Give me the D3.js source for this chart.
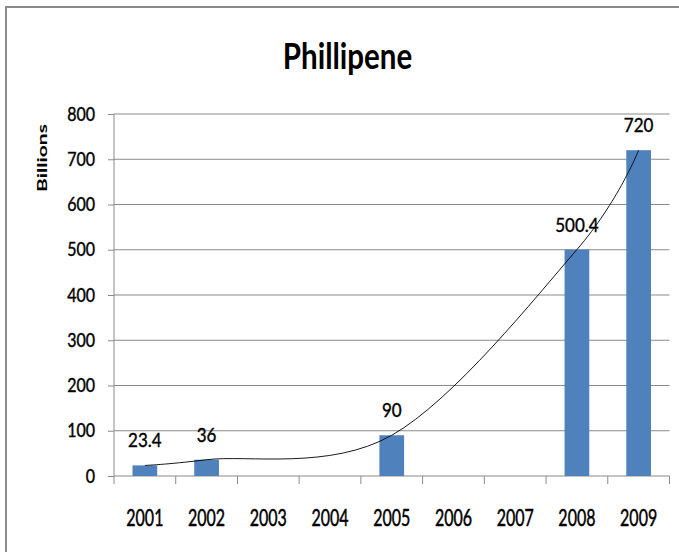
<!DOCTYPE html>
<html><head><meta charset="utf-8">
<script src="https://cdn.jsdelivr.net/npm/d3@7"></script>
<style>
body{margin:0;background:#fff;}
svg{display:block;}
text{font-family:Lato,'Open Sans',sans-serif;fill:#000;}
text.reg{stroke:#000;stroke-width:0.35px;}
</style>
</head><body>
<svg id="c" width="679" height="552"></svg>
<script>
const chartTitle = "Phillipene";
const yAxisTitle = "Billions";
const categories = ["2001","2002","2003","2004","2005","2006","2007","2008","2009"];
const values = [23.4, 36, null, null, 90, null, null, 500.4, 720];
const valueLabels = ["23.4","36",null,null,"90",null,null,"500.4","720"];
const yTicks = [0,100,200,300,400,500,600,700,800];

const svg = d3.select("#c");
const L = 114, R = 669.5, T = 114, B = 476;

// outer frame
svg.append("rect").attr("x",6).attr("y",7).attr("width",700).attr("height",600)
  .attr("fill","none").attr("stroke","#8a8a8a").attr("stroke-width",2);

const x = d3.scaleBand().domain(categories).range([L,R]).paddingInner(0.6).paddingOuter(0.3);
const xb = d3.scaleBand().domain(categories).range([L,R]).padding(0);
const y = d3.scaleLinear().domain([0,800]).range([B,T]);

function stretch(sel, sx, sy){
  sel.each(function(){
    const t = d3.select(this);
    const px = +t.attr("data-x"), py = +t.attr("data-y");
    t.attr("transform", `translate(${px},${py}) scale(${sx},${sy})`);
  });
}

// gridlines
svg.append("g").selectAll("line").data(yTicks.filter(d=>d>0)).join("line")
  .attr("x1",L).attr("x2",R).attr("y1",d=>y(d)).attr("y2",d=>y(d))
  .attr("stroke","#8a8a8a").attr("stroke-width",1);

// y axis with ticks
const yAxis = svg.append("g").attr("transform",`translate(${L},0)`)
  .call(d3.axisLeft(y).tickValues(yTicks).tickSize(6).tickFormat(""));
yAxis.select(".domain").attr("stroke","#8a8a8a").attr("d",`M0,${B}V${T}`);
yAxis.selectAll(".tick line").attr("stroke","#8a8a8a");

// y tick labels
svg.append("g").selectAll("text").data(yTicks).join("text").attr("class","reg")
  .attr("data-x",95).attr("data-y",d=>y(d)+6.6)
  .attr("text-anchor","end").attr("font-size",16)
  .text(d=>d).call(stretch,1,1.15);

// x axis line and boundary ticks
svg.append("line").attr("x1",L).attr("x2",R).attr("y1",B).attr("y2",B)
  .attr("stroke","#8a8a8a").attr("stroke-width",1);
const bounds = categories.map(c=>xb(c)).concat([R]);
svg.append("g").selectAll("line").data(bounds).join("line")
  .attr("x1",d=>d).attr("x2",d=>d).attr("y1",B).attr("y2",B+8)
  .attr("stroke","#8a8a8a").attr("stroke-width",1);

// x labels
svg.append("g").selectAll("text").data(categories).join("text").attr("class","reg")
  .attr("data-x",d=>xb(d)+xb.bandwidth()/2).attr("data-y",526)
  .attr("text-anchor","middle").attr("font-size",16)
  .text(d=>d).call(stretch,1,1.45);

// bars
const barData = categories.map((c,i)=>({c, v:values[i], lab:valueLabels[i]})).filter(d=>d.v!=null);
svg.append("g").selectAll("rect").data(barData).join("rect")
  .attr("x",d=>x(d.c)).attr("width",x.bandwidth())
  .attr("y",d=>y(d.v)).attr("height",d=>B-y(d.v))
  .attr("fill","#4F81BD");

// smoothed line through the series points (blanks skipped)
const line = d3.line()
  .x(d=>x(d.c)+x.bandwidth()/2).y(d=>y(d.v))
  .curve(d3.curveCardinal.tension(0));
svg.append("path").datum(barData).attr("d",line)
  .attr("fill","none").attr("stroke","#000").attr("stroke-width",0.9);

// data labels
svg.append("g").selectAll("text").data(barData).join("text").attr("class","reg")
  .attr("data-x",d=>x(d.c)+x.bandwidth()/2).attr("data-y",d=>y(d.v)-18)
  .attr("text-anchor","middle").attr("font-size",17)
  .text(d=>d.lab).call(stretch,1,1.1);

// title
svg.append("text").attr("data-x",347.5).attr("data-y",69.3)
  .attr("text-anchor","middle").attr("font-size",29.5).attr("font-weight",700)
  .text(chartTitle).call(stretch,1,1.25);

// y axis title
svg.append("text").attr("transform","translate(47.3,158) rotate(-90) scale(1.5,1)")
  .attr("text-anchor","middle").attr("font-size",14).attr("font-weight",700)
  .text(yAxisTitle);
</script>
</body></html>
